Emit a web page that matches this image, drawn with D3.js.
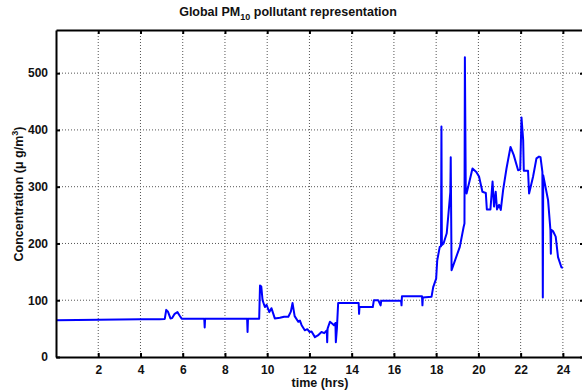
<!DOCTYPE html>
<html>
<head>
<meta charset="utf-8">
<script src="https://cdn.jsdelivr.net/npm/d3@7"></script>
<style>
  body { margin: 0; background: #fff; }
  svg { display: block; }
</style>
</head>
<body>
<div id="chart-area"></div>
<script>
// readings taken off the original plot
const hours = [0, 1, 2, 3, 4, 4.9, 5.15, 5.22, 5.3, 5.42, 5.5, 5.62, 5.75, 5.85, 5.95,
  7.02, 7.04, 7.06, 9.05, 9.07, 9.09, 9.62, 9.66, 9.72, 9.78, 9.89, 9.97, 10.1, 10.2, 10.36,
  10.6, 10.8, 11.0, 11.12, 11.2, 11.3, 11.47, 11.55, 11.63, 11.78, 11.9, 12.0, 12.1, 12.26,
  12.4, 12.57, 12.7, 12.82, 12.84, 12.86, 12.97, 13.1, 13.16, 13.23, 13.25, 13.3, 13.36,
  14.33, 14.35, 14.37, 15.0, 15.05, 15.26, 15.37, 15.4, 16.34, 16.36, 16.38, 17.33, 17.35,
  17.37, 17.78, 17.86, 18.0, 18.05, 18.17, 18.23, 18.25, 18.27, 18.35, 18.5, 18.57, 18.67,
  18.69, 18.73, 19.12, 19.3, 19.34, 19.36, 19.4, 19.44, 19.55, 19.72, 19.9, 20.03, 20.19,
  20.35, 20.4, 20.57, 20.67, 20.74, 20.82, 20.88, 20.98, 21.06, 21.17, 21.33, 21.52, 21.67,
  21.88, 21.98, 22.04, 22.12, 22.15, 22.35, 22.4, 22.59, 22.75, 22.87, 22.94, 23.03, 23.05,
  23.07, 23.3, 23.41, 23.43, 23.45, 23.53, 23.66, 23.77, 23.93, 24.0];

const conc = [64.8, 65.2, 65.5, 66, 66.3, 66.5, 67, 83, 80, 68, 68.5, 76, 79, 73, 67.5,
  67.5, 52, 67.5, 67.5, 44, 67.5, 67.5, 126, 124, 100, 88, 92, 79, 86, 68,
  69, 71, 71, 80, 95, 72, 62, 64, 56, 47, 49, 44, 45, 35,
  38, 44, 42, 47, 26, 50, 62, 58, 56, 60, 26, 50, 95,
  95, 76, 88, 88, 100, 100, 91, 99, 99, 91, 107, 107, 91,
  105, 106, 123, 138, 170, 194, 195, 406, 197, 200, 218, 247, 290,
  352, 153, 194, 229, 235, 528, 300, 288, 305, 332, 326, 318, 291,
  289, 260, 260, 309, 265, 291, 260, 268, 259, 294, 332, 370, 356,
  329, 330, 422, 382, 328, 328, 288, 318, 350, 353, 352, 326, 105,
  320, 276, 224, 182, 224, 222, 212, 176, 158, 157];

const xTicks = [2, 4, 6, 8, 10, 12, 14, 16, 18, 20, 22, 24];
const yTicks = [0, 100, 200, 300, 400, 500];

const margin = { left: 56, top: 30 },
  width = 528, height = 327;

const font = "'Liberation Sans', Arial, sans-serif";

let svg = d3.select('#chart-area')
  .append('svg')
  .attr('width', 582)
  .attr('height', 391)
  .style('font-family', font)
  .style('font-weight', 'bold');

let g = svg.append('g')
  .attr('transform', `translate(${margin.left}, ${margin.top})`);

const x = d3.scaleLinear().domain([0, 25]).range([0, width]);
const y = d3.scaleLinear().domain([0, 576]).range([height, 0]);

// dotted grid
g.append('g').selectAll('line')
  .data(xTicks)
  .join('line')
  .attr('x1', d => x(d)).attr('x2', d => x(d))
  .attr('y1', 0).attr('y2', height)
  .attr('stroke', '#555').attr('stroke-dasharray', '1,2');

g.append('g').selectAll('line')
  .data(yTicks.filter(d => d > 0))
  .join('line')
  .attr('x1', 0).attr('x2', width)
  .attr('y1', d => y(d)).attr('y2', d => y(d))
  .attr('stroke', '#555').attr('stroke-dasharray', '1,2');

// the series
const pts = hours.map((h, i) => [h, conc[i]]);
g.append('path')
  .datum(pts)
  .attr('fill', 'none')
  .attr('stroke', '#0000ff')
  .attr('stroke-width', 2)
  .attr('stroke-linejoin', 'round')
  .attr('d', d3.line().x(d => x(d[0])).y(d => y(d[1])));

// axes, ticks pointing inward
const xAxis = g.append('g')
  .attr('transform', `translate(0, ${height})`)
  .call(d3.axisBottom(x).tickValues(xTicks).tickSizeInner(-4).tickSizeOuter(0).tickPadding(8));
const yAxis = g.append('g')
  .call(d3.axisLeft(y).tickValues(yTicks).tickSizeInner(-4).tickSizeOuter(0).tickPadding(8));
const topAxis = g.append('g')
  .call(d3.axisTop(x).tickValues(xTicks).tickSizeInner(-4).tickSizeOuter(0).tickFormat(''));
const rightAxis = g.append('g')
  .attr('transform', `translate(${width}, 0)`)
  .call(d3.axisRight(y).tickValues(yTicks).tickSizeInner(-4).tickSizeOuter(0).tickFormat(''));

[xAxis, yAxis, topAxis, rightAxis].forEach(a => {
  a.select('.domain').attr('stroke', '#000').attr('stroke-width', 2);
  a.selectAll('.tick line').attr('stroke', '#000').attr('stroke-width', 2);
  a.selectAll('.tick text')
    .attr('fill', '#111')
    .style('font-family', font)
    .style('font-weight', 'bold')
    .style('font-size', '12px');
});

// title
const title = svg.append('text')
  .attr('x', 288).attr('y', 16)
  .attr('text-anchor', 'middle')
  .style('font-size', '12.5px')
  .attr('fill', '#111');
title.append('tspan').text('Global PM');
title.append('tspan').attr('dy', 4).style('font-size', '9px').text('10');
title.append('tspan').attr('dy', -4).text(' pollutant representation');

// x label
svg.append('text')
  .attr('x', 320).attr('y', 387)
  .attr('text-anchor', 'middle')
  .style('font-size', '12.5px')
  .attr('fill', '#111')
  .text('time (hrs)');

// y label
const ylab = svg.append('text')
  .attr('transform', 'translate(23, 194) rotate(-90)')
  .attr('text-anchor', 'middle')
  .style('font-size', '12.5px')
  .attr('fill', '#111');
ylab.append('tspan').text('Concentration (μ g/m');
ylab.append('tspan').attr('dy', -5).style('font-size', '9px').text('3');
ylab.append('tspan').attr('dy', 5).text(')');
</script>
</body>
</html>
